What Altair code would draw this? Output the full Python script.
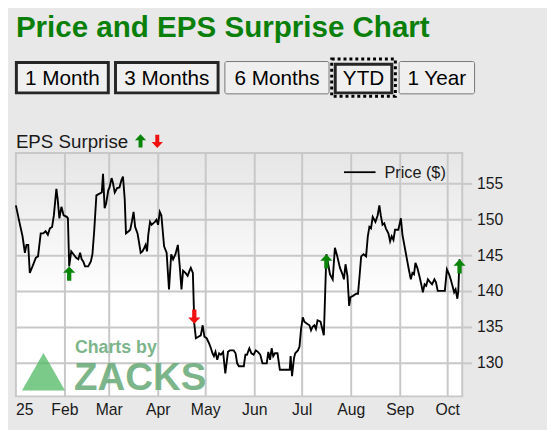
import altair as alt
import pandas as pd

# ---------------- data ----------------
TITLE = "Price and EPS Surprise Chart"
BUTTONS = ["1 Month", "3 Months", "6 Months", "YTD", "1 Year"]
EPS_LABEL = "EPS Surprise"
SERIES_NAME = "Price ($)"
WATERMARK_TOP = "Charts by"
WATERMARK_MAIN = "ZACKS"
START = "2025-01-01"

# days since 2025-01-01
day_offsets = [
    0.0, 2.2, 4.2, 5.7, 6.7, 7.8, 8.8, 10.5, 12.6, 14.0,
    15.7, 17.3, 18.8, 20.2, 21.5, 22.9, 24.0, 25.6, 26.4, 27.5,
    28.8, 30.2, 32.2, 32.9, 33.7, 35.0, 36.4, 38.1, 39.5, 40.6,
    41.6, 42.6, 43.7, 45.7, 47.4, 48.4, 49.5, 50.9, 52.6, 54.3,
    55.1, 56.1, 57.1, 58.4, 59.2, 60.5, 61.3, 62.5, 64.0, 65.5,
    66.7, 67.7, 68.8, 69.6, 71.3, 72.3, 73.3, 74.4, 75.4, 76.9,
    77.9, 78.9, 80.0, 81.2, 82.0, 82.9, 83.7, 84.8, 85.8, 86.8,
    87.9, 88.9, 89.9, 91.0, 92.0, 93.7, 95.3, 96.8, 98.2, 99.4,
    100.9, 102.4, 103.6, 104.7, 105.7, 107.2, 108.6, 109.8, 110.6, 111.9,
    112.8, 113.8, 115.4, 116.9, 118.1, 119.2, 120.6, 122.1, 123.3, 124.3,
    125.2, 126.2, 127.3, 128.5, 129.6, 131.0, 132.4, 134.1, 135.2, 136.2,
    137.7, 138.9, 139.9, 141.0, 142.4, 144.1, 145.1, 146.1, 147.6, 148.9,
    150.3, 151.7, 153.0, 154.5, 155.9, 157.6, 158.6, 159.6, 160.7, 161.7,
    162.7, 163.8, 165.4, 166.9, 169.0, 171.0, 173.1, 173.7, 174.6, 175.8,
    176.6, 178.3, 179.3, 180.3, 181.4, 182.4, 184.1, 185.6, 186.6, 187.6,
    188.7, 189.7, 190.7, 192.6, 194.7, 196.3, 198.6, 200.3, 201.7, 203.2,
    204.9, 206.5, 207.4, 208.4, 209.6, 210.7, 211.5, 213.1, 215.2, 216.3,
    217.3, 218.3, 219.8, 221.4, 222.5, 223.5, 224.5, 225.6, 227.3, 228.7,
    229.8, 230.7, 231.8, 232.9, 233.9, 235.5, 236.6, 237.6, 238.7, 239.7,
    241.8, 243.4, 244.4, 245.9, 246.9, 248.4, 249.7, 250.7, 251.7, 252.6,
    253.8, 255.3, 256.3, 257.3, 258.4, 259.4, 260.5, 261.9, 263.1, 264.6,
    265.6, 266.7, 268.3, 269.8, 271.2, 272.5, 273.9, 274.9, 276.0, 277.1,
    278.0, 279.1, 279.7, 280.5,
]

prices = [
    152.0, 149.7, 147.7, 145.4, 146.5, 146.5, 142.6, 143.5, 144.7, 144.9,
    148.1, 148.1, 148.4, 147.9, 148.8, 149.0, 150.6, 154.3, 152.9, 150.2,
    151.8, 150.6, 150.4, 150.2, 143.5, 145.6, 145.2, 144.7, 144.5, 145.4,
    144.5, 144.2, 143.5, 143.5, 144.2, 145.2, 148.4, 153.4, 153.6, 153.8,
    156.4, 151.6, 152.3, 154.1, 154.5, 155.8, 155.2, 153.8, 154.4, 154.5,
    155.5, 156.0, 152.9, 148.1, 148.4, 148.6, 149.7, 151.1, 149.0, 148.1,
    146.8, 145.4, 145.6, 146.1, 146.5, 145.6, 147.9, 149.7, 149.3, 149.5,
    149.7, 150.0, 149.3, 151.1, 150.6, 146.3, 145.4, 140.3, 145.2, 144.5,
    145.2, 146.5, 143.5, 140.3, 142.9, 142.6, 142.2, 142.9, 143.3, 142.6,
    135.5, 133.5, 133.7, 133.9, 135.3, 133.7, 133.5, 132.8, 132.1, 131.4,
    131.0, 131.6, 130.5, 131.4, 131.2, 131.6, 128.6, 131.6, 131.8, 131.8,
    131.8, 131.4, 130.0, 129.6, 129.6, 129.6, 131.2, 131.2, 132.1, 131.4,
    131.2, 131.8, 131.6, 131.2, 130.0, 130.0, 130.0, 131.6, 130.5, 132.1,
    131.0, 131.4, 131.4, 129.1, 129.1, 129.1, 129.1, 131.0, 128.2, 130.7,
    131.4, 131.8, 132.3, 134.8, 136.4, 135.8, 135.5, 135.3, 134.6, 135.1,
    135.3, 134.8, 136.0, 135.8, 133.9, 145.2, 142.4, 141.7, 146.1, 144.9,
    143.3, 142.4, 141.7, 143.8, 142.2, 138.0, 139.2, 139.4, 139.7, 139.7,
    142.2, 144.9, 145.2, 144.9, 147.7, 149.0, 148.8, 150.4, 149.7, 150.6,
    152.0, 150.6, 149.3, 149.5, 148.8, 148.1, 147.0, 147.7, 147.2, 148.6,
    148.6, 150.2, 147.9, 146.1, 144.9, 143.1, 141.7, 142.6, 142.4, 144.0,
    143.3, 142.0, 141.0, 139.9, 141.0, 140.8, 141.7, 141.3, 141.0, 141.7,
    141.3, 140.1, 140.1, 140.1, 140.1, 143.1, 142.4, 141.7, 140.8, 139.9,
    140.3, 139.0, 140.1, 144.5,
]

eps_day_offsets = [33.7, 112.8, 196.3, 280.5]
eps_prices = [143.5, 135.5, 145.2, 144.5]
eps_result = ["beat", "miss", "beat", "beat"]

month_starts = ["2025-01-01", "2025-02-01", "2025-03-01", "2025-04-01", "2025-05-01",
                "2025-06-01", "2025-07-01", "2025-08-01", "2025-09-01", "2025-10-01"]
month_labels = ["25", "Feb", "Mar", "Apr", "May", "Jun", "Jul", "Aug", "Sep", "Oct"]
y_ticks = [130, 135, 140, 145, 150, 155]

# ---------------- build tables ----------------
start = pd.Timestamp(START)
price_df = pd.DataFrame({
    "date": (start + pd.to_timedelta(day_offsets, unit="D")).strftime("%Y-%m-%dT%H:%M:%S"),
    "price": prices,
})
eps_df = pd.DataFrame({
    "date": (start + pd.to_timedelta(eps_day_offsets, unit="D")).strftime("%Y-%m-%dT%H:%M:%S"),
    "price": eps_prices,
    "result": eps_result,
})
month_df = pd.DataFrame({"date": [m + "T00:00:00" for m in month_starts],
                         "label": month_labels})
ytick_df = pd.DataFrame({"price": y_ticks, "label": [str(v) for v in y_ticks]})
one = pd.DataFrame({"k": [0]})

# ---------------- layout / style ----------------
W, H = 453, 247
FONT = "Liberation Sans"
GRID = "#c8c8c8"
TXT = "#1a1a1a"
xs = alt.Scale(domain=[alt.DateTime(year=2025, month=1, date=1),
                       alt.DateTime(year=2025, month=10, date=10, hours=5)], nice=False)
ys = alt.Scale(domain=[125.4, 159.3], nice=False, zero=False)
X = alt.X("date:T", scale=xs, axis=None)
Y = alt.Y("price:Q", scale=ys, axis=None)

UP = "M0,0L0.85,0.9L0.3,0.9L0.3,2L-0.3,2L-0.3,0.9L-0.85,0.9Z"
DOWN = "M0,0L0.85,-0.9L0.3,-0.9L0.3,-2L-0.3,-2L-0.3,-0.9L-0.85,-0.9Z"
TRI = "M0,-1L1.15,1L-1.15,1Z"


def deco():
    return alt.Chart(one)


layers = []

# plot-area gradient
layers.append(deco().mark_rect(color=alt.LinearGradient(
    gradient="linear", x1=0, x2=0, y1=0, y2=1,
    stops=[alt.GradientStop(color="#e6e6e6", offset=0),
           alt.GradientStop(color="#ffffff", offset=0.6),
           alt.GradientStop(color="#ffffff", offset=1)])).encode(
    x=alt.value(0), x2=alt.value(W), y=alt.value(0), y2=alt.value(H)))

# grid lines, border, ticks, axis labels
grid_months = alt.Chart(month_df).transform_filter("month(datum.date) > 0")
layers.append(grid_months.mark_rule(color=GRID, strokeWidth=2).encode(x=X))
layers.append(alt.Chart(ytick_df).mark_rule(color=GRID, strokeWidth=2).encode(y=Y))
layers.append(deco().mark_rect(fillOpacity=0, stroke=GRID, strokeWidth=2).encode(
    x=alt.value(0), x2=alt.value(W), y=alt.value(0), y2=alt.value(H)))
layers.append(alt.Chart(ytick_df).mark_rule(color=GRID, strokeWidth=2).encode(
    y=Y, x=alt.value(W), x2=alt.value(W + 10)))
layers.append(alt.Chart(ytick_df).mark_text(font=FONT, fontSize=16, color=TXT, align="left",
                                            baseline="middle").encode(
    y=Y, x=alt.value(W + 15), text="label:N"))
layers.append(grid_months.mark_text(font=FONT, fontSize=16, color=TXT, align="center",
                                    baseline="top").encode(
    x=X, y=alt.value(H + 6), text="label:N"))
layers.append(alt.Chart(month_df).transform_filter("month(datum.date) == 0").mark_text(
    font=FONT, fontSize=16, color=TXT, align="left", baseline="top").encode(
    x=X, y=alt.value(H + 6), text="label:N"))

# watermark
layers.append(deco().mark_point(shape=TRI, filled=True, size=1444, color="#4fb863",
                                opacity=0.75, strokeWidth=0).encode(
    x=alt.value(28), y=alt.value(222)))
layers.append(deco().mark_text(text=WATERMARK_TOP, font=FONT, fontSize=18, fontWeight="bold",
                               color="#67a977", opacity=0.85, align="left",
                               baseline="alphabetic").encode(
    x=alt.value(60), y=alt.value(203)))
layers.append(deco().mark_text(text=WATERMARK_MAIN, font=FONT, fontSize=39, fontWeight="bold",
                               color="#67a977", opacity=0.85, align="left",
                               baseline="alphabetic").encode(
    x=alt.value(59), y=alt.value(241)))

# price line
layers.append(alt.Chart(price_df).mark_line(color="black", strokeWidth=1.9).encode(x=X, y=Y))

# EPS surprise arrows
layers.append(alt.Chart(eps_df).mark_point(filled=True, opacity=1, strokeWidth=0, size=210).encode(
    x=X, y=Y,
    shape=alt.Shape("result:N", scale=alt.Scale(domain=["beat", "miss"], range=[UP, DOWN]),
                    legend=None),
    color=alt.Color("result:N", scale=alt.Scale(domain=["beat", "miss"],
                                                range=["#0a850a", "#f01010"]), legend=None),
))

# series legend
layers.append(deco().mark_rule(color="black", strokeWidth=1.8).encode(
    x=alt.value(333), x2=alt.value(365), y=alt.value(19.5)))
layers.append(deco().mark_text(text=SERIES_NAME, font=FONT, fontSize=16.5, color=TXT,
                               align="left", baseline="middle").encode(
    x=alt.value(374), y=alt.value(20.5)))

# title & EPS legend
layers.append(deco().mark_text(text=TITLE, font=FONT, fontSize=30, fontWeight="bold",
                               color="#0a800a", align="left", baseline="alphabetic").encode(
    x=alt.value(0), y=alt.value(-118.2)))
layers.append(deco().mark_text(text=EPS_LABEL, font=FONT, fontSize=19, color=TXT,
                               align="left", baseline="alphabetic").encode(
    x=alt.value(0), y=alt.value(-5.3)))
layers.append(deco().mark_point(shape=UP, filled=True, size=180, color="#0a850a",
                                strokeWidth=0, opacity=1).encode(
    x=alt.value(126.5), y=alt.value(-19)))
layers.append(deco().mark_point(shape=DOWN, filled=True, size=180, color="#f01010",
                                strokeWidth=0, opacity=1).encode(
    x=alt.value(143.5), y=alt.value(-5)))

# range buttons (x0, x1, style)
button_boxes = [(-1, 95.3, "pressed"), (99.6, 206.7, "pressed"), (211.6, 318.3, "plain"),
                (322.6, 383, "focus"), (388.4, 466, "plain")]
for label, (x0, x1, kind) in zip(BUTTONS, button_boxes):
    if kind == "plain":
        layers.append(deco().mark_rect(fill="#efefef", stroke="#767676", strokeWidth=1,
                                       cornerRadius=2).encode(
            x=alt.value(x0 + 0.5), x2=alt.value(x1 - 0.5),
            y=alt.value(-92.8), y2=alt.value(-60)))
    else:
        top = -91.8 if kind == "pressed" else -90
        layers.append(deco().mark_rect(fill="#f0f0f0", stroke="#262626", strokeWidth=3).encode(
            x=alt.value(x0 + 1.5), x2=alt.value(x1 - 1.5),
            y=alt.value(top), y2=alt.value(-61)))
    if kind == "focus":
        layers.append(deco().mark_rect(fillOpacity=0, stroke="black", strokeWidth=3,
                                       strokeDash=[3, 3]).encode(
            x=alt.value(x0 - 2.1), x2=alt.value(x1 + 2.1),
            y=alt.value(-95.3), y2=alt.value(-57.5)))
    layers.append(deco().mark_text(text=label, font=FONT, fontSize=21, color="black",
                                   align="center", baseline="alphabetic").encode(
        x=alt.value((x0 + x1) / 2), y=alt.value(-69.1)))

chart = alt.layer(*layers).properties(
    width=W, height=H,
    autosize=alt.AutoSizeParams(type="none"),
    padding={"left": 8, "top": 144, "right": 86, "bottom": 31},
).configure(background="#e8e8e8").configure_view(strokeOpacity=0)

chart.save("out.html", embed_options={"renderer": "svg", "actions": False})
